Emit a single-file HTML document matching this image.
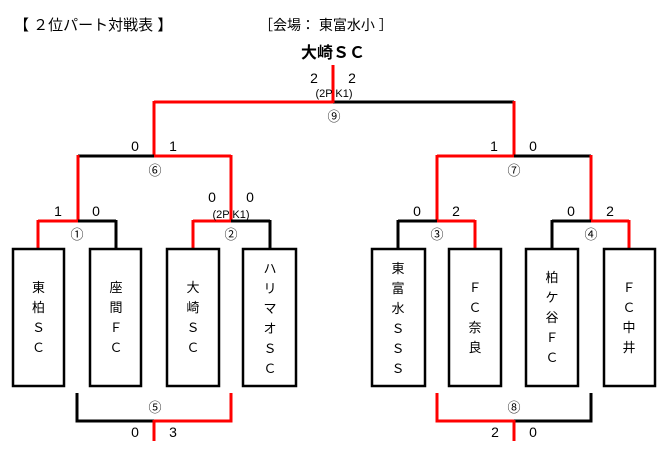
<!DOCTYPE html>
<html><head><meta charset="utf-8"><style>
html,body{margin:0;padding:0;background:#fff;}
svg text{font-family:"Liberation Sans","Noto Sans CJK JP",sans-serif;fill:#000;}
</style></head><body>
<svg width="669" height="456" viewBox="0 0 669 456" xmlns="http://www.w3.org/2000/svg">
<text x="14" y="30" font-size="15">【 ２位パート対戦表 】</text>
<text x="259" y="30" font-size="14">［会場： 東富水小 ］</text>
<text x="333" y="58" font-size="16" font-weight="bold" text-anchor="middle">大崎ＳＣ</text>

<g stroke-width="3" fill="none">
<line x1="154" y1="102" x2="333" y2="102" stroke="#f00"/>
<line x1="333" y1="102" x2="514" y2="102" stroke="#000"/>
<line x1="333" y1="65" x2="333" y2="103" stroke="#f00"/>
<line x1="154" y1="101" x2="154" y2="157" stroke="#f00"/>
<line x1="514" y1="101" x2="514" y2="157" stroke="#f00"/>
<line x1="78" y1="156" x2="154" y2="156" stroke="#000"/>
<line x1="154" y1="156" x2="231" y2="156" stroke="#f00"/>
<line x1="78" y1="155" x2="78" y2="222" stroke="#f00"/>
<line x1="231" y1="155" x2="231" y2="222" stroke="#f00"/>
<line x1="437" y1="156" x2="514" y2="156" stroke="#f00"/>
<line x1="514" y1="156" x2="591" y2="156" stroke="#000"/>
<line x1="437" y1="155" x2="437" y2="222" stroke="#f00"/>
<line x1="591" y1="155" x2="591" y2="222" stroke="#f00"/>
<line x1="38" y1="221" x2="78" y2="221" stroke="#f00"/>
<line x1="78" y1="221" x2="116" y2="221" stroke="#000"/>
<line x1="38" y1="220" x2="38" y2="249" stroke="#f00"/>
<line x1="116" y1="220" x2="116" y2="249" stroke="#000"/>
<line x1="193" y1="221" x2="231" y2="221" stroke="#f00"/>
<line x1="231" y1="221" x2="270" y2="221" stroke="#000"/>
<line x1="193" y1="220" x2="193" y2="249" stroke="#f00"/>
<line x1="270" y1="220" x2="270" y2="249" stroke="#000"/>
<line x1="398" y1="221" x2="437" y2="221" stroke="#000"/>
<line x1="437" y1="221" x2="475" y2="221" stroke="#f00"/>
<line x1="398" y1="220" x2="398" y2="249" stroke="#000"/>
<line x1="475" y1="220" x2="475" y2="249" stroke="#f00"/>
<line x1="552" y1="221" x2="591" y2="221" stroke="#000"/>
<line x1="591" y1="221" x2="629" y2="221" stroke="#f00"/>
<line x1="552" y1="220" x2="552" y2="249" stroke="#000"/>
<line x1="629" y1="220" x2="629" y2="249" stroke="#f00"/>
<polyline points="77,393 77,421 154,421" stroke="#000"/>
<polyline points="154,421 231,421 231,393" stroke="#f00"/>
<line x1="154" y1="420" x2="154" y2="441" stroke="#f00"/>
<polyline points="437,393 437,421 514,421" stroke="#f00"/>
<polyline points="514,421 591,421 591,393" stroke="#000"/>
<line x1="514" y1="420" x2="514" y2="441" stroke="#f00"/>
</g>

<g fill="#fff" stroke="#000" stroke-width="2.5">
<rect x="13" y="249" width="51" height="137"/>
<rect x="90" y="249" width="51" height="137"/>
<rect x="167" y="249" width="52" height="137"/>
<rect x="243" y="249" width="53" height="137"/>
<rect x="372" y="249" width="53" height="137"/>
<rect x="449" y="249" width="52" height="137"/>
<rect x="526" y="249" width="52" height="137"/>
<rect x="604" y="249" width="51" height="137"/>
</g>
<g font-size="13" text-anchor="middle">
<text x="38.5" y="292">東</text><text x="38.5" y="312">柏</text><text x="38.5" y="332">Ｓ</text><text x="38.5" y="352">Ｃ</text>
<text x="116" y="292">座</text><text x="116" y="312">間</text><text x="116" y="332">Ｆ</text><text x="116" y="352">Ｃ</text>
<text x="193" y="292">大</text><text x="193" y="312">崎</text><text x="193" y="332">Ｓ</text><text x="193" y="352">Ｃ</text>
<text x="270" y="273">ハ</text><text x="270" y="293">リ</text><text x="270" y="313">マ</text><text x="270" y="333">オ</text><text x="270" y="353">Ｓ</text><text x="270" y="373">Ｃ</text>
<text x="398" y="273">東</text><text x="398" y="293">富</text><text x="398" y="313">水</text><text x="398" y="333">Ｓ</text><text x="398" y="353">Ｓ</text><text x="398" y="373">Ｓ</text>
<text x="475" y="292">Ｆ</text><text x="475" y="312">Ｃ</text><text x="475" y="332">奈</text><text x="475" y="352">良</text>
<text x="552" y="282">柏</text><text x="552" y="302">ケ</text><text x="552" y="322">谷</text><text x="552" y="342">Ｆ</text><text x="552" y="362">Ｃ</text>
<text x="629" y="292">Ｆ</text><text x="629" y="312">Ｃ</text><text x="629" y="332">中</text><text x="629" y="352">井</text>
</g>
<g font-size="14" text-anchor="middle">
<text x="314" y="83">2</text><text x="352" y="83">2</text>
<text x="135" y="151">0</text><text x="173" y="151">1</text>
<text x="494" y="151">1</text><text x="533" y="151">0</text>
<text x="58" y="216">1</text><text x="96" y="216">0</text>
<text x="212" y="202">0</text><text x="250" y="202">0</text>
<text x="417" y="216">0</text><text x="456" y="216">2</text>
<text x="571" y="216">0</text><text x="610" y="216">2</text>
<text x="135" y="437">0</text><text x="173" y="437">3</text>
<text x="495" y="437">2</text><text x="533" y="437">0</text>
</g>
<g font-size="11" text-anchor="middle">
<text x="334" y="97">(2P K1)</text>
<text x="231" y="218">(2P K1)</text>
</g>
<g font-size="13" text-anchor="middle">
<text x="334" y="121">⑨</text>
<text x="155" y="175">⑥</text>
<text x="514" y="175">⑦</text>
<text x="77" y="239">①</text>
<text x="231" y="239">②</text>
<text x="437" y="239">③</text>
<text x="591" y="239">④</text>
<text x="155" y="412">⑤</text>
<text x="514" y="412">⑧</text>
</g>
</svg>
</body></html>
